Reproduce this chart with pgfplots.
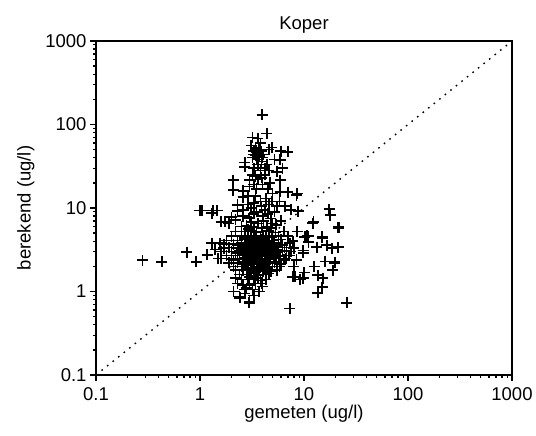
\documentclass[border=0pt]{standalone}
\usepackage{fontspec}
\setmainfont{Liberation Sans}
\usepackage{pgfplots}
\pgfplotsset{compat=1.18}

\begin{document}
\begin{tikzpicture}
\begin{axis}[
    xmode=log, ymode=log,
    scale only axis,
    width=416pt, height=334pt,
    xmin=0.1, xmax=1000, ymin=0.1, ymax=1000,
    xtick={0.1,1,10,100,1000}, xticklabels={0.1,1,10,100,1000},
    ytick={0.1,1,10,100,1000}, yticklabels={0.1,1,10,100,1000},
    minor xtick={}, minor ytick={},
    tick align=outside, major tick length=6pt,
    xtick pos=bottom, ytick pos=left,
    axis line style={line width=1.3pt},
    tick style={line width=1.3pt, black},
    ticklabel style={font=\fontsize{18.5}{21}\selectfont},
    xticklabel style={yshift=-3pt},
    label style={font=\fontsize{18.5}{21}\selectfont},
    xlabel style={yshift=2pt},
    ylabel style={yshift=4pt},
    title style={font=\fontsize{18.5}{21}\selectfont, yshift=-2pt},
    title={Koper},
    xlabel={gemeten (ug/l)},
    ylabel={berekend (ug/l)},
    clip=false,
]
\addplot[black, line width=1.4pt, dash pattern=on 1.6pt off 5.5pt] coordinates {(0.1,0.1) (1000,1000)};
\addplot[only marks, mark=+, mark size=5.5pt, black, mark options={line width=1.5pt}] coordinates {
% upper column
(3.95,130) (3.2,70) (3.6,68) (4.4,78) (3.4,50) (3.5,47) (3.6,45) (3.3,44) (3.7,42) (3.5,40)
(3.4,52) (4.9,53) (4.6,50) (7.0,47) (6.0,48) (5.9,37.6) (5.2,38) (4.2,30) (3.8,28) (2.7,31)
(6.2,30) (4.7,20) (4.2,25) (3.2,25) (3.6,22) (3.0,21.6) (2.08,21.6) (2.08,16.4) (2.6,16) (3.0,18)
(4.0,19) (5.9,21.6) (7.0,15.5) (8.6,15) (8.5,14.3) (5.9,15.6) (5.0,15) (4.3,13) (2.6,13.5) (3.4,14)
(3.8,12) (4.6,11) (5.8,12) (2.9,11) (3.1,10) (2.3,10.9) (2.3,9.2) (2.6,9.5) (3.5,9) (4.2,9.5)
(5.2,9.0) (7.5,9.5) (8.8,9.2) (6.6,10.5) (4.0,8) (3.0,7.6) (2.2,7.2) (4.8,7.5) (6.0,7) (3.6,6.5)
(2.8,6.2) (4.4,6.0) (5.4,6.3) (1.0,9.4) (1.04,9.3) (1.33,9.4) (1.46,9.4) (1.3,8.7) (1.74,6.8) (1.6,6.8)
(1.9,6.5) (2.0,7.8) (2.7,35) (3.9,36) (4.4,33) (3.1,56) (3.8,60) (4.1,44) (5.5,27) (3.3,19)
(3.3,48) (3.7,50) (3.45,43) (3.55,38) (3.9,48) (3.2,40) (4.0,40) (3.6,33) (3.3,30) (4.6,28)
(3.4,24) (3.9,23) (4.5,17) (3.5,17) (2.9,14) (4.9,12) (3.3,11.5) (3.9,10.5) (4.5,8.5) (3.3,8.5)
(2.6,8.0) (5.5,10.5) (3.1,6.8) (4.1,7.0) (5.0,6.5) (2.5,6.0) (3.9,5.8) (4.8,5.8) (3.3,5.9) (2.9,5.6)
% core
(2.2,5.2) (2.7,5.2) (3.1,5.3) (3.5,5.1) (4.0,5.2) (4.6,5.3) (5.3,5.1) (6.4,5.2)
(2.0,4.6) (2.5,4.6) (2.9,4.7) (3.3,4.5) (3.8,4.6) (4.3,4.7) (4.9,4.5) (5.7,4.6) (7.0,4.6)
(1.8,4.1) (2.3,4.1) (2.7,4.2) (3.1,4.0) (3.5,4.1) (3.9,4.2) (4.4,4.0) (5.1,4.1) (6.0,4.2) (7.8,4.0)
(1.7,3.7) (2.1,3.7) (2.5,3.8) (2.8,3.6) (3.2,3.7) (3.6,3.8) (4.0,3.6) (4.5,3.7) (5.2,3.8) (6.2,3.6) (7.3,3.8)
(1.9,3.35) (2.3,3.3) (2.6,3.4) (3.0,3.35) (3.3,3.3) (3.7,3.4) (4.1,3.35) (4.7,3.3) (5.4,3.4) (6.5,3.35) (8.0,3.3)
(1.6,3.0) (2.0,3.0) (2.4,3.05) (2.8,2.95) (3.1,3.0) (3.4,3.05) (3.8,2.95) (4.2,3.0) (4.8,3.05) (5.6,2.95) (6.8,3.0)
(1.8,2.7) (2.2,2.7) (2.6,2.75) (2.9,2.65) (3.2,2.7) (3.6,2.75) (4.0,2.65) (4.4,2.7) (5.0,2.75) (5.9,2.65) (7.2,2.7)
(2.0,2.45) (2.4,2.45) (2.7,2.5) (3.0,2.4) (3.4,2.45) (3.8,2.5) (4.2,2.4) (4.7,2.45) (5.4,2.5) (6.4,2.4)
(1.9,2.2) (2.3,2.2) (2.6,2.25) (2.9,2.15) (3.3,2.2) (3.7,2.25) (4.1,2.15) (4.6,2.2) (5.2,2.25) (6.0,2.15)
(2.1,2.0) (2.5,2.0) (2.8,2.05) (3.1,1.95) (3.5,2.0) (3.9,2.05) (4.4,1.95) (5.0,2.0) (5.8,2.0)
(2.2,1.8) (2.6,1.8) (2.9,1.85) (3.3,1.75) (3.7,1.8) (4.2,1.85) (4.8,1.75) (5.5,1.8)
(2.4,1.6) (2.8,1.6) (3.1,1.65) (3.5,1.55) (4.0,1.6) (4.6,1.65)
(2.5,1.4) (2.9,1.4) (3.3,1.45) (3.8,1.35) (4.3,1.4)
(2.6,1.2) (3.0,1.2) (3.4,1.25) (4.0,1.15)
(2.1,1.0) (2.7,1.05) (3.2,1.05) (3.7,1.0)
(2.96,0.73) (2.42,0.84) (2.7,0.95) (3.3,0.9) (2.4,0.86) (3.0,0.75)
% extra density in core
(2.5,3.2) (2.9,3.1) (3.3,2.9) (3.6,3.2) (3.9,2.8) (4.3,3.2) (3.0,2.6) (3.4,2.6) (3.7,2.4) (4.4,2.5)
(2.7,2.9) (3.5,3.5) (3.1,3.9) (4.1,3.9) (4.7,2.9) (2.4,2.7) (3.2,2.3) (3.8,2.1) (2.8,2.3) (4.9,3.5)
(2.3,3.6) (2.7,4.4) (3.4,4.3) (4.1,4.4) (4.6,4.1) (5.5,3.2) (5.1,2.6) (4.5,2.3) (2.9,1.95) (3.6,1.9)
(2.3,2.9) (3.0,3.7) (3.8,3.2) (4.4,3.5) (5.3,2.9) (2.6,2.1) (3.4,1.7) (4.1,1.75) (3.0,1.5) (3.6,1.45)
(1.7,3.3) (1.6,2.5) (2.1,2.35) (6.2,3.1) (6.7,2.5) (7.5,3.0) (2.3,1.25) (2.8,1.1) (3.9,1.25) (2.2,1.45)
(3.15,3.45) (3.45,3.15) (3.75,2.95) (3.25,2.85) (2.85,3.25) (3.95,3.55) (4.25,2.75) (2.65,2.55) (3.55,2.55) (4.0,2.3)
% left tail
(0.28,2.38) (0.43,2.26) (0.75,2.97) (0.92,2.26) (1.17,2.75) (1.30,3.8) (1.56,3.8) (1.49,2.5) (1.4,3.2)
% right tail
(12.2,6.6) (21.3,5.9) (8.6,5.2) (10.7,4.7) (14.9,4.4) (16.6,3.6) (21.3,3.4) (13.3,3.4) (9.8,2.9) (8.5,2.4)
(19.8,2.25) (19,1.8) (13.6,1.57) (15.2,1.45) (14.9,1.13) (13.6,0.96) (9.8,1.45) (7.8,1.5) (25.9,0.73) (7.3,0.63)
(19.8,2.2) (9.8,3.1) (10.2,4.5) (11.0,3.9) (7.3,3.8) (17.4,9.7) (17.8,8.2) (12.4,6.8) (21.7,5.8) (11.0,4.6)
(14.9,4.5) (8.2,1.5) (9.2,1.4) (16.0,2.3) (18.5,3.3) (12.5,2.0) (10.0,1.7) (8.0,2.0)
};
\end{axis}
\path ([xshift=-96pt,yshift=-60pt]current axis.south west) rectangle ([xshift=24pt,yshift=41pt]current axis.north east);
\end{tikzpicture}
\end{document}
